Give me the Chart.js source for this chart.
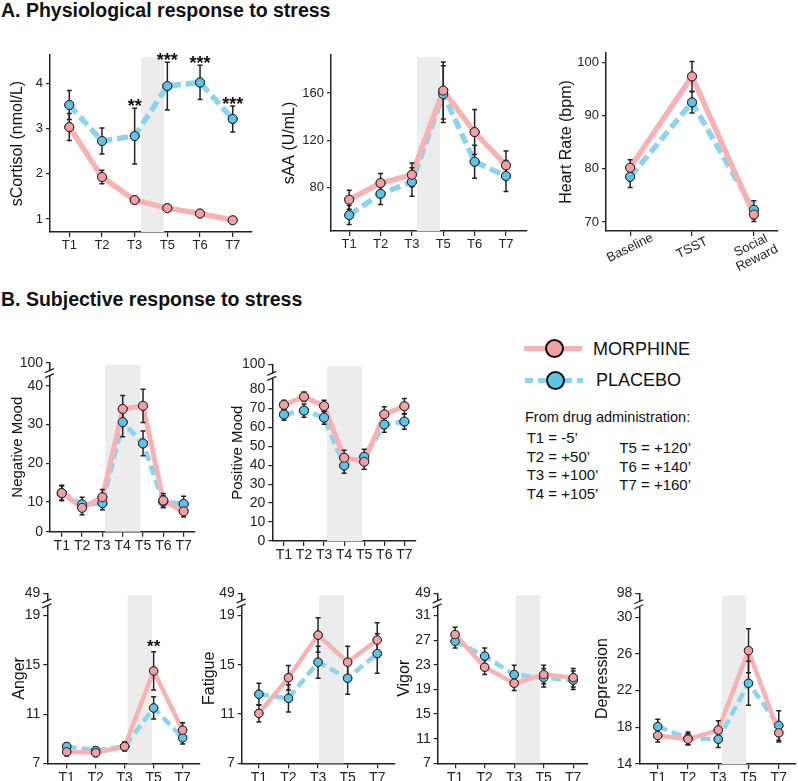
<!DOCTYPE html>
<html>
<head>
<meta charset="utf-8">
<script src="https://cdn.jsdelivr.net/npm/chart.js@4.4.0/dist/chart.umd.min.js"></script>
<style>
  body { margin: 0; background: #fff; font-family: "Liberation Sans", Arial, sans-serif; color: #111; }
  #page { position: relative; width: 798px; height: 781px; overflow: hidden; }
  canvas { position: absolute; }
  .txt { position: absolute; white-space: nowrap; }
  .head { font-weight: bold; font-size: 19.5px; line-height: 19.5px; }
  .dot { position: absolute; width: 15px; height: 15px; border: 2px solid #111; border-radius: 50%; }
</style>
</head>
<body>
<div id="page">
  <div class="txt head" style="left:1px;top:0.5px;">A. Physiological response to stress</div>
  <div class="txt head" style="left:1px;top:290.4px;">B. Subjective response to stress</div>

  <div style="position:absolute;left:524px;top:345.5px;width:58px;height:5px;background:#f7b2b4;"></div>
  <div class="dot" style="left:544.5px;top:338.8px;background:#f3a0a4;"></div>
  <div class="txt" style="left:593px;top:339.5px;font-size:18px;line-height:18px;">MORPHINE</div>

  <div style="position:absolute;left:525px;top:377.5px;width:58px;height:5px;background:repeating-linear-gradient(90deg,#8cd4ee 0 8px,transparent 8px 13px);"></div>
  <div class="dot" style="left:545.5px;top:370.5px;background:#5fc3e6;"></div>
  <div class="txt" style="left:596px;top:371.2px;font-size:18px;line-height:18px;">PLACEBO</div>

  <div class="txt" style="left:525px;top:409.6px;font-size:14.5px;line-height:14.5px;">From drug administration:</div>
  <div class="txt" style="left:526.7px;top:429.4px;font-size:15px;line-height:18.4px;">T1 = -5’<br>T2 = +50’<br>T3 = +100’<br>T4 = +105’</div>
  <div class="txt" style="left:619.3px;top:439.4px;font-size:15px;line-height:18.2px;">T5 = +120’<br>T6 = +140’<br>T7 = +160’</div>
</div>
<script>
// ---- data ----
const cortLabels = ['T1', 'T2', 'T3', 'T5', 'T6', 'T7'];
const cortMorph = [3.04, 1.93, 1.42, 1.24, 1.12, 0.97];
const cortMorphErr = [0.3, 0.15, 0.08, 0.07, 0.07, 0.05];
const cortPlac = [3.53, 2.73, 2.84, 3.95, 4.03, 3.22];
const cortPlacErr = [0.32, 0.29, 0.62, 0.53, 0.38, 0.29];
const cortStars = ['', '', '**', '***', '***', '***'];
const cortTicks = [1, 2, 3, 4];

const saaLabels = ['T1', 'T2', 'T3', 'T5', 'T6', 'T7'];
const saaMorph = [70, 84, 91, 162, 127, 99];
const saaMorphErr = [8, 8, 10, 24, 19, 12];
const saaPlac = [57, 75, 85, 159, 102, 90];
const saaPlacErr = [8, 9, 12, 24, 14, 13];
const saaTicks = [80, 120, 160];

const hrLabels = ['Baseline', 'TSST', 'Social\nReward'];
const hrMorph = [80.2, 97.4, 71.4];
const hrMorphErr = [1.5, 2.8, 1.3];
const hrPlac = [78.5, 92.5, 72.3];
const hrPlacErr = [2.0, 2.0, 1.7];
const hrTicks = [70, 80, 90, 100];

const moodLabels = ['T1', 'T2', 'T3', 'T4', 'T5', 'T6', 'T7'];
const negMorph = [12.3, 8.5, 11.2, 34.0, 34.8, 10.4, 7.6];
const negMorphErr = [2, 1.8, 2, 3.5, 4.3, 1.8, 1.5];
const negPlac = [12.3, 9.4, 9.7, 30.6, 25.1, 10.1, 9.5];
const negPlacErr = [1.8, 1.8, 1.7, 3.8, 3.2, 1.5, 2];
const negTicks = [10, 20, 30, 40];

const posMorph = [71.8, 76.1, 71.2, 43.9, 41.8, 66.8, 71.1];
const posMorphErr = [2.5, 2.5, 3, 4, 4, 4, 4];
const posPlac = [66.7, 68.8, 65.1, 39.8, 44.4, 61.4, 63.0];
const posPlacErr = [3, 3.5, 3.5, 4, 4, 4, 4];
const posTicks = [0, 10, 20, 30, 40, 50, 60, 70, 80];

const poms = ['T1', 'T2', 'T3', 'T5', 'T7'];
const angerMorph = [7.95, 7.87, 8.38, 14.5, 9.7];
const angerMorphErr = [0.35, 0.3, 0.35, 1.55, 0.6];
const angerPlac = [8.38, 8.05, 8.38, 11.5, 9.08];
const angerPlacErr = [0.3, 0.3, 0.35, 0.9, 0.5];
const angerStars = ['', '', '', '**', ''];
const angerTicks = [7, 11, 15, 19];

const fatMorph = [11.05, 13.94, 17.4, 15.2, 17.0];
const fatMorphErr = [0.7, 1.0, 1.4, 1.3, 1.4];
const fatPlac = [12.6, 12.27, 15.2, 13.9, 15.9];
const fatPlacErr = [0.9, 1.1, 1.3, 1.3, 1.6];
const fatTicks = [7, 11, 15, 19];

const vigMorph = [27.9, 22.6, 20.0, 21.4, 20.9];
const vigMorphErr = [1.2, 1.2, 1.2, 1.5, 1.5];
const vigPlac = [26.8, 24.4, 21.4, 20.9, 20.5];
const vigPlacErr = [1.1, 1.3, 1.5, 1.5, 1.5];
const vigTicks = [7, 11, 15, 19, 23, 27, 31];

const depMorph = [17.1, 16.7, 17.7, 26.35, 17.4];
const depMorphErr = [0.7, 0.6, 1.0, 2.4, 1.0];
const depPlac = [18.07, 16.8, 16.7, 22.8, 18.2];
const depPlacErr = [0.8, 0.7, 0.9, 2.4, 1.6];
const depTicks = [14, 18, 22, 26, 30];

// ---- style ----
Chart.defaults.font.family = "'Liberation Sans', Arial, sans-serif";
Chart.defaults.color = '#222';
Chart.defaults.animation = false;

const PINK_LINE = '#f7b2b4', PINK_DOT = '#f3a0a4';
const BLUE_LINE = '#8cd4ee', BLUE_DOT = '#5fc3e6';
const INK = '#222';

const extrasPlugin = {
    id: 'extras',
    beforeDatasetsDraw(chart, args, opts) {
        let p = opts.panel;
        if (!p.band) return;
        let x = chart.scales.x, a = chart.chartArea, ctx = chart.ctx;
        ctx.save();
        ctx.fillStyle = '#ececec';
        let x1 = x.getPixelForValue(p.band[0]), x2 = x.getPixelForValue(p.band[1]);
        ctx.fillRect(x1, a.top + 2, x2 - x1, a.bottom - a.top - 2);
        ctx.restore();
    },
    afterDatasetsDraw(chart) {
        let ctx = chart.ctx, y = chart.scales.y;
        ctx.save();
        ctx.strokeStyle = INK;
        ctx.lineWidth = 1.5;
        chart.data.datasets.forEach((ds, di) => {
            let meta = chart.getDatasetMeta(di);
            ds.errors.forEach((e, i) => {
                let pt = meta.data[i], v = ds.data[i].y;
                let y1 = y.getPixelForValue(v + e), y2 = y.getPixelForValue(v - e);
                ctx.beginPath();
                ctx.moveTo(pt.x, y1); ctx.lineTo(pt.x, y2);
                ctx.moveTo(pt.x - 2.5, y1); ctx.lineTo(pt.x + 2.5, y1);
                ctx.moveTo(pt.x - 2.5, y2); ctx.lineTo(pt.x + 2.5, y2);
                ctx.stroke();
            });
        });
        // markers back on top of the error bars
        for (let di = chart.data.datasets.length - 1; di >= 0; di--) {
            chart.getDatasetMeta(di).data.forEach(pt => pt.draw(ctx, chart.chartArea));
        }
        ctx.restore();
    },
    afterDraw(chart, args, opts) {
        let p = opts.panel, ctx = chart.ctx, x = chart.scales.x, y = chart.scales.y, a = chart.chartArea;
        ctx.save();
        if (p.breakLabel) {
            let top = p.yTicks[p.yTicks.length - 1];
            let yb = (y.getPixelForValue(p.yMax) + y.getPixelForValue(top)) / 2 - 1;
            ctx.fillStyle = '#fff';
            ctx.fillRect(a.left - 3, yb - 2.5, 6, 5);
            ctx.strokeStyle = INK;
            ctx.lineWidth = 1.3;
            ctx.beginPath();
            ctx.moveTo(a.left - 5, yb - 0.5); ctx.lineTo(a.left + 4, yb - 4.5);
            ctx.moveTo(a.left - 5, yb + 4.5); ctx.lineTo(a.left + 4, yb + 0.5);
            ctx.stroke();
        }
        if (p.stars) {
            ctx.fillStyle = '#111';
            ctx.font = 'bold ' + p.starSize + 'px "Liberation Sans", Arial, sans-serif';
            ctx.textAlign = 'center';
            ctx.textBaseline = 'alphabetic';
            p.stars.forEach((s, i) => {
                if (!s) return;
                let tops = chart.data.datasets.map(ds => y.getPixelForValue(ds.data[i].y + ds.errors[i]));
                ctx.fillText(s, x.getPixelForValue(i), Math.min(...tops) + p.starGap);
            });
        }
        if (p.rotLabels) {
            ctx.fillStyle = INK;
            ctx.font = p.tickSize + 'px "Liberation Sans", Arial, sans-serif';
            ctx.textAlign = 'center';
            ctx.textBaseline = 'middle';
            p.labels.forEach((lab, i) => {
                let lines = lab.split('\n');
                ctx.save();
                ctx.translate(x.getPixelForValue(i), a.bottom + 17 + (lines.length - 1) * 4);
                ctx.rotate(-26 * Math.PI / 180);
                lines.forEach((ln, k) => ctx.fillText(ln, 0, (k - (lines.length - 1) / 2) * 14));
                ctx.restore();
            });
        }
        ctx.restore();
    }
};

function makePanel(p) {
    let lh = p.titleSize * 1.2;
    let left = Math.round(p.titleX - lh / 2);
    let yW = p.L - left;
    let top = Math.floor(p.T - 12);
    let padTop = p.T - top;
    let height = Math.ceil(p.B - top + (p.xH || 26));
    let xH = height - (p.B - top);
    let width = Math.ceil(p.R - left + 6);
    let padRight = width - (p.R - left);

    let canvas = document.createElement('canvas');
    canvas.width = width;
    canvas.height = height;
    canvas.style.left = left + 'px';
    canvas.style.top = top + 'px';
    document.getElementById('page').appendChild(canvas);

    let yVals = (p.minLabel ? [p.yMin] : []).concat(p.yTicks).concat(p.breakLabel ? [p.yMax] : []);
    let lw = p.lineWidth || 5;

    return new Chart(canvas, {
        type: 'line',
        data: {
            datasets: [
                {
                    label: 'MORPHINE',
                    data: p.morph.map((v, i) => ({ x: i, y: v })),
                    errors: p.morphErr,
                    borderColor: PINK_LINE,
                    borderWidth: lw,
                    borderJoinStyle: 'round',
                    pointRadius: p.r || 4.5,
                    pointBackgroundColor: PINK_DOT,
                    pointBorderColor: INK,
                    pointBorderWidth: 1
                },
                {
                    label: 'PLACEBO',
                    data: p.plac.map((v, i) => ({ x: i, y: v })),
                    errors: p.placErr,
                    borderColor: BLUE_LINE,
                    borderWidth: lw,
                    borderDash: p.dash || [10, 5],
                    borderJoinStyle: 'round',
                    pointRadius: p.r || 4.5,
                    pointBackgroundColor: BLUE_DOT,
                    pointBorderColor: INK,
                    pointBorderWidth: 1
                }
            ]
        },
        options: {
            responsive: false,
            animation: false,
            layout: { padding: { top: padTop, right: padRight, left: 0, bottom: 0 } },
            plugins: {
                legend: { display: false },
                tooltip: { enabled: false },
                extras: { panel: p }
            },
            scales: {
                x: {
                    type: 'linear',
                    min: p.xMin,
                    max: p.xMax,
                    afterBuildTicks: s => { s.ticks = p.labels.map((_, i) => ({ value: i })); },
                    afterFit: s => { s.height = xH; },
                    ticks: {
                        autoSkip: false, maxRotation: 0, minRotation: 0, padding: 1,
                        font: { size: p.tickSize },
                        callback: v => p.rotLabels ? '' : p.labels[v]
                    },
                    grid: { drawOnChartArea: false, drawTicks: true, tickLength: 5, color: INK, lineWidth: 1.2 },
                    border: { display: true, color: INK, width: 1.5 }
                },
                y: {
                    min: p.yMin,
                    max: p.yMax,
                    afterBuildTicks: s => { s.ticks = yVals.map(v => ({ value: v })); },
                    afterFit: s => { s.width = yW; },
                    title: { display: true, text: p.title, font: { size: p.titleSize }, padding: 0, color: '#111' },
                    ticks: {
                        autoSkip: false, padding: 3,
                        font: { size: p.tickSize },
                        callback: v => {
                            if (p.minLabel && v === p.yMin) return p.minLabel;
                            if (p.breakLabel && v === p.yMax) return p.breakLabel;
                            return String(v);
                        }
                    },
                    grid: { drawOnChartArea: false, drawTicks: true, tickLength: 4, color: INK, lineWidth: 1.2 },
                    border: { display: true, color: INK, width: 1.5 }
                }
            }
        },
        plugins: [extrasPlugin]
    });
}

// ---- A. physiological ----
makePanel({
    title: 'sCortisol (nmol/L)', titleX: 18, titleSize: 16, tickSize: 13,
    L: 50, R: 252, T: 55, B: 232, xMin: -0.59, xMax: 5.59, band: [2.2, 2.9],
    yMin: 0.71, yMax: 4.64, yTicks: cortTicks,
    labels: cortLabels, morph: cortMorph, morphErr: cortMorphErr, plac: cortPlac, placErr: cortPlacErr,
    stars: cortStars, starSize: 18, starGap: 4, lineWidth: 5.5, dash: [11, 5]
});
makePanel({
    title: 'sAA (U/mL)', titleX: 290, titleSize: 16, tickSize: 13,
    L: 331, R: 527, T: 55, B: 231, xMin: -0.58, xMax: 5.67, band: [2.16, 2.9],
    yMin: 43.6, yMax: 192, yTicks: saaTicks,
    labels: saaLabels, morph: saaMorph, morphErr: saaMorphErr, plac: saaPlac, placErr: saaPlacErr,
    lineWidth: 5.5, dash: [11, 5]
});
makePanel({
    title: 'Heart Rate (bpm)', titleX: 567, titleSize: 16, tickSize: 13,
    L: 606, R: 778, T: 53, B: 231, xMin: -0.39, xMax: 2.39, xH: 50,
    yMin: 68.3, yMax: 101.8, yTicks: hrTicks,
    labels: hrLabels, rotLabels: true, morph: hrMorph, morphErr: hrMorphErr, plac: hrPlac, placErr: hrPlacErr,
    lineWidth: 5.5, dash: [11, 5]
});

// ---- B. subjective ----
makePanel({
    title: 'Negative Mood', titleX: 18.3, titleSize: 15, tickSize: 14,
    L: 50, R: 195, T: 362.7, B: 531.7, xMin: -0.58, xMax: 6.56, band: [2.13, 3.87],
    yMin: 2.34, yMax: 45.93, yTicks: negTicks, minLabel: '0', breakLabel: '100',
    labels: moodLabels, morph: negMorph, morphErr: negMorphErr, plac: negPlac, placErr: negPlacErr
});
makePanel({
    title: 'Positive Mood', titleX: 238, titleSize: 15, tickSize: 14,
    L: 272.3, R: 416, T: 364.3, B: 541, xMin: -0.58, xMax: 6.58, band: [2.15, 3.9],
    yMin: 0, yMax: 93.2, yTicks: posTicks, breakLabel: '100',
    labels: moodLabels, morph: posMorph, morphErr: posMorphErr, plac: posPlac, placErr: posPlacErr
});
makePanel({
    title: 'Anger', titleX: 20, titleSize: 16, tickSize: 14,
    L: 47.3, R: 200, T: 593.3, B: 763.5, xMin: -0.67, xMax: 4.6, band: [2.1, 2.94],
    yMin: 7, yMax: 20.79, yTicks: angerTicks, breakLabel: '49',
    labels: poms, morph: angerMorph, morphErr: angerMorphErr, plac: angerPlac, placErr: angerPlacErr,
    stars: angerStars, starSize: 17, starGap: 0, r: 4.2, lineWidth: 4.5
});
makePanel({
    title: 'Fatigue', titleX: 210, titleSize: 16, tickSize: 14,
    L: 241.7, R: 395, T: 593.3, B: 763.3, xMin: -0.58, xMax: 4.6, band: [2.04, 2.88],
    yMin: 7, yMax: 20.79, yTicks: fatTicks, breakLabel: '49',
    labels: poms, morph: fatMorph, morphErr: fatMorphErr, plac: fatPlac, placErr: fatPlacErr,
    r: 4.2, lineWidth: 4.5
});
makePanel({
    title: 'Vigor', titleX: 405, titleSize: 16, tickSize: 14,
    L: 437.7, R: 588, T: 593.3, B: 763.3, xMin: -0.59, xMax: 4.5, band: [2.04, 2.87],
    yMin: 7, yMax: 34.6, yTicks: vigTicks, breakLabel: '49',
    labels: poms, morph: vigMorph, morphErr: vigMorphErr, plac: vigPlac, placErr: vigPlacErr,
    r: 4.2, lineWidth: 4.5
});
makePanel({
    title: 'Depression', titleX: 603, titleSize: 16, tickSize: 14,
    L: 639.3, R: 796, T: 593.3, B: 764, xMin: -0.61, xMax: 4.57, band: [2.12, 2.92],
    yMin: 14, yMax: 32.6, yTicks: depTicks, breakLabel: '98',
    labels: poms, morph: depMorph, morphErr: depMorphErr, plac: depPlac, placErr: depPlacErr,
    r: 4.2, lineWidth: 4.5
});
</script>
</body>
</html>
